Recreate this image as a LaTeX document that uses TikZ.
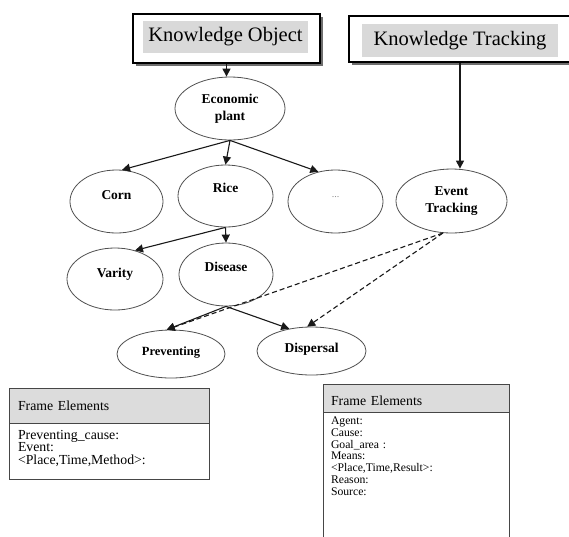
\documentclass[tikz,border=0pt]{standalone}
\usepackage{fontspec}
\setmainfont{Liberation Serif}
\usetikzlibrary{
  positioning,
  arrows.meta,
  shapes.geometric
}
\definecolor{titlebg}{RGB}{217,217,217}
\definecolor{headbg}{RGB}{220,220,220}
\definecolor{shadecolor}{RGB}{110,110,110}
\definecolor{ovalborder}{RGB}{80,80,80}
\definecolor{frameborder}{RGB}{70,70,70}
\definecolor{arrowcolor}{RGB}{25,25,25}
\definecolor{dotgray}{RGB}{140,140,140}
\tikzset{
  kshade/.style={
    fill=shadecolor, inner sep=0pt
  },
  kbox/.style={
    draw=black, fill=white, line width=1.1pt, inner sep=0pt
  },
  ktitle/.style={
    fill=titlebg, inner sep=0pt,
    font=\fontsize{20.5}{24}\selectfont
  },
  ovalnode/.style={
    ellipse, draw=ovalborder, fill=white, line width=0.8pt, inner sep=0pt,
    font=\fontsize{13.5}{17}\selectfont\bfseries, align=center
  },
  fehead/.style={
    draw=frameborder, fill=headbg, line width=0.8pt,
    align=left, font=\fontsize{13.8}{14}\selectfont
  },
  febody/.style={
    draw=frameborder, fill=white, line width=0.8pt,
    align=left, inner ysep=4pt
  },
  bigarrow/.style={
    ->, >={Triangle[length=8pt,width=8pt]}, line width=1.1pt, draw=arrowcolor
  },
  dasharrow/.style={
    bigarrow, dash pattern=on 5pt off 3pt
  }
}

\begin{document}
\begin{tikzpicture}[x=1pt, y=-1pt]
    \clip (0,0) rectangle (569,536);
    \fill[white] (0,0) rectangle (569,536);

    % Title boxes with their shadows
    \node[kshade, minimum width=187pt, minimum height=49pt] (kobjshade) at (229.5,41.5) {};
    \node[kbox, minimum width=187pt, minimum height=49pt] (kobj) at (226.5,38.5) {};
    \node[ktitle, minimum width=165pt, minimum height=32pt] (kobjtitle) at (225.5,37) {Knowledge Object};
    \node[kshade, minimum width=226pt, minimum height=46pt] (ktrackshade) at (465,42) {};
    \node[kbox, minimum width=226pt, minimum height=46pt] (ktrack) at (462,39) {};
    \node[ktitle, minimum width=196pt, minimum height=33pt] (ktracktitle) at (460,40.5) {Knowledge Tracking};

    % Concept ellipses
    \node[ovalnode, minimum width=110pt, minimum height=63pt] (econ) at (230,108.5) {Economic\\plant};
    \node[ovalnode, minimum width=93pt, minimum height=63pt, text depth=13pt] (corn) at (116.5,201.5) {Corn};
    \node[ovalnode, minimum width=95pt, minimum height=62pt, text depth=16pt] (rice) at (225.5,196) {Rice};
    \node[ovalnode, minimum width=95pt, minimum height=63pt, text depth=9pt,
          font=\fontsize{10}{12}\selectfont, text=dotgray] (dots) at (335.5,201.5) {...};
    \node[ovalnode, minimum width=111pt, minimum height=64pt] (event) at (451.5,201) {Event\\Tracking};
    \node[ovalnode, minimum width=96pt, minimum height=62pt, text depth=12pt] (varity) at (115,279) {Varity};
    \node[ovalnode, minimum width=94pt, minimum height=63pt, text depth=15pt] (disease) at (226,274.5) {Disease};
    \node[ovalnode, minimum width=108pt, minimum height=48pt, text depth=6pt,
          font=\fontsize{12.5}{15}\selectfont\bfseries] (prev) at (171,354) {Preventing};
    \node[ovalnode, minimum width=109pt, minimum height=48pt, text depth=6pt] (disp) at (311.5,351) {Dispersal};

    % Frame element tables
    \node[fehead, minimum width=200pt, minimum height=35pt, text width=182pt, inner xsep=9pt] (lhead) at (109,405.5) {Frame Elements};
    \node[febody, below=0pt of lhead, minimum width=200pt, minimum height=56pt, text width=182pt, inner xsep=9pt,
          text depth=34pt, font=\fontsize{13.8}{12.5}\selectfont] (lbody) {Preventing\_cause:\\Event:\\<Place,Time,Method>:};
    \node[fehead, minimum width=186pt, minimum height=28pt, text width=170pt, inner xsep=8pt, text height=15pt] (rhead) at (416,398) {Frame Elements};
    \node[febody, below=0pt of rhead, text width=170pt, inner xsep=8pt, text depth=125pt,
          font=\fontsize{11.7}{11.8}\selectfont] (rbody) {Agent:\\Cause:\\Goal\_area :\\Means:\\<Place,Time,Result>:\\Reason:\\Source:};

    % Hierarchy arrows
    \draw[bigarrow] (kobj.south) -- (kobj.south |- econ.north);
    \draw[bigarrow] (econ.south) -- (corn.80);
    \draw[bigarrow] (econ.south) -- (rice.north);
    \draw[bigarrow] (econ.south) -- (dots.120);
    \draw[bigarrow] (ktracktitle.south |- ktrack.south) -- (ktracktitle.south |- event.north);
    \draw[bigarrow] (rice.south) -- (varity.55);
    \draw[bigarrow] (rice.south) -- (disease.north);
    \draw[bigarrow] (disease.south) -- (prev.100);
    \draw[bigarrow] (disease.south) -- (disp.135);

    % Tracking links
    \draw[dasharrow] (event.255) -- (prev.100);
    \draw[dasharrow] (event.255) -- (disp.100);

  \end{tikzpicture}
\end{document}
